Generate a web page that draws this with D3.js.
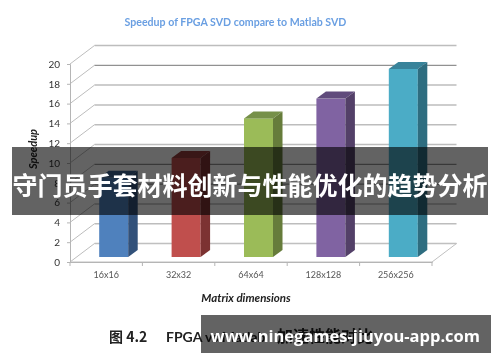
<!DOCTYPE html>
<html>
<head>
<meta charset="utf-8">
<script src="https://cdn.jsdelivr.net/npm/d3@7"></script>
<style>
html, body { margin: 0; padding: 0; background: #fff; }
svg { display: block; }
text { font-family: Lato, "Open Sans", sans-serif; }
</style>
</head>
<body>
<div id="chart"></div>
<script>
const categories = ['16x16', '32x32', '64x64', '128x128', '256x256'];
const speedup = [8, 10, 14, 16, 19];
const yTicks = [0, 2, 4, 6, 8, 10, 12, 14, 16, 18, 20];
const frontColors = ['#4f81bd', '#c0504d', '#9bbb59', '#8064a2', '#4bacc6'];
const topColors = ['#3b6390', '#923c3a', '#76904a', '#614c7c', '#38839a'];
const sideColors = ['#30517a', '#7c3130', '#667c3a', '#523f68', '#2f6d80'];

const width = 500, height = 362;
const depth = {x: 24.5, y: -18.5};
const barDepth = {x: 9.5, y: -7};

const svg = d3.select('#chart').append('svg')
    .attr('width', width)
    .attr('height', height);

const defs = svg.append('defs');
defs.append('filter').attr('id', 'soft')
    .append('feGaussianBlur').attr('stdDeviation', 0.55);

const chart = svg.append('g').attr('filter', 'url(#soft)');

const x = d3.scaleBand().domain(categories).range([70, 432]);
const y = d3.scaleLinear().domain([0, 20]).range([262, 64]);
const barH = v => y(0) - y(v);
const barBase = 257;

chart.append('text')
    .attr('x', 235.5).attr('y', 26)
    .attr('text-anchor', 'middle')
    .style('font-size', '10.6px')
    .style('font-weight', 'bold')
    .style('fill', '#6a9fe2')
    .text('Speedup of FPGA SVD compare to Matlab SVD');

// back wall gridlines and the slanted lines on the side wall
const isDark = t => t === 18 || t === 8 || t === 6;
const grid = chart.append('g');
yTicks.forEach(t => {
    grid.append('line')
        .attr('x1', x.range()[0]).attr('y1', y(t))
        .attr('x2', x.range()[0] + depth.x).attr('y2', y(t) + depth.y)
        .attr('stroke', '#bdbdbd').attr('stroke-width', 1);
    grid.append('line')
        .attr('x1', x.range()[0] + depth.x).attr('y1', y(t) + depth.y)
        .attr('x2', x.range()[1] + depth.x).attr('y2', y(t) + depth.y)
        .attr('stroke', isDark(t) ? '#777' : '#bdbdbd')
        .attr('stroke-width', isDark(t) ? 1 : 1.5);
});

// floor edges
const floor = d3.line();
chart.append('path')
    .attr('d', floor([
        [x.range()[0] + depth.x, y(0) + depth.y],
        [x.range()[1] + depth.x, y(0) + depth.y],
        [x.range()[1], y(0)],
        [x.range()[0], y(0)]
    ]))
    .attr('fill', 'none')
    .attr('stroke', '#c0c0c0');

const axisY = d3.axisLeft(y).tickValues(yTicks).tickSize(3).tickPadding(7);
const gy = chart.append('g').attr('transform', `translate(${x.range()[0]},0)`).call(axisY);
gy.select('.domain').attr('stroke', '#b5b5b5');
gy.selectAll('.tick line').attr('stroke', '#b5b5b5');
gy.selectAll('text').style('font-size', '10px').style('fill', '#333');

const axisX = d3.axisBottom(x).tickSize(0).tickPadding(10);
const gx = chart.append('g').attr('transform', `translate(0,${y(0)})`).call(axisX);
gx.select('.domain').attr('stroke', '#b5b5b5');
gx.selectAll('text').style('font-size', '9px').style('fill', '#555');
categories.concat('end').forEach((c, i) => {
    const px = x.range()[0] + i * x.step();
    gx.append('line').attr('x1', px).attr('x2', px).attr('y1', 0).attr('y2', 4).attr('stroke', '#b5b5b5');
});

// bars, drawn as front, top and side faces
const bars = chart.selectAll('.bar').data(categories).join('g').attr('class', 'bar');
const barX = c => x(c) + x.bandwidth() / 2 - 7;
const barW = 29;
const barTop = (c, i) => barBase - barH(speedup[i]);

bars.append('rect')
    .attr('x', barX)
    .attr('y', barTop)
    .attr('width', barW)
    .attr('height', (c, i) => barH(speedup[i]))
    .attr('fill', (c, i) => frontColors[i]);
bars.append('path')
    .attr('d', (c, i) => floor([
        [barX(c), barTop(c, i)],
        [barX(c) + barDepth.x, barTop(c, i) + barDepth.y],
        [barX(c) + barW + barDepth.x, barTop(c, i) + barDepth.y],
        [barX(c) + barW, barTop(c, i)]
    ]))
    .attr('fill', (c, i) => topColors[i]);
bars.append('path')
    .attr('d', (c, i) => floor([
        [barX(c) + barW, barTop(c, i)],
        [barX(c) + barW + barDepth.x, barTop(c, i) + barDepth.y],
        [barX(c) + barW + barDepth.x, barBase + barDepth.y],
        [barX(c) + barW, barBase]
    ]))
    .attr('fill', (c, i) => sideColors[i]);

chart.append('text')
    .attr('transform', 'translate(37,149) rotate(-90)')
    .attr('text-anchor', 'middle')
    .style('font-size', '11px')
    .style('font-weight', 'bold')
    .style('font-style', 'italic')
    .style('fill', '#222')
    .text('Speedup');

chart.append('text')
    .attr('x', 246).attr('y', 302)
    .attr('text-anchor', 'middle')
    .style('font-size', '11.5px')
    .style('font-weight', 'bold')
    .style('font-style', 'italic')
    .style('fill', '#222')
    .text('Matrix dimensions');

chart.append('text')
    .attr('x', 109).attr('y', 342)
    .style('font-family', '"Noto Sans CJK SC", sans-serif')
    .style('font-size', '14px')
    .style('font-weight', 'bold')
    .style('fill', '#222')
    .text('图 4.2');

chart.append('text')
    .attr('x', 166).attr('y', 342)
    .style('font-size', '14px')
    .style('font-weight', 'bold')
    .style('fill', '#222')
    .text('FPGA vs Matlab');

chart.append('text')
    .attr('x', 277).attr('y', 342)
    .style('font-family', '"Noto Sans CJK SC", sans-serif')
    .style('font-size', '16px')
    .style('font-weight', 'bold')
    .style('fill', '#222')
    .text('加速性能对比');

// dark banners over the picture
svg.append('rect').attr('x', 12).attr('y', 147).attr('width', 476).attr('height', 68)
    .attr('fill', '#000').attr('fill-opacity', 0.61);
svg.append('rect').attr('x', 201).attr('y', 315).attr('width', 290).attr('height', 38)
    .attr('fill', '#000').attr('fill-opacity', 0.61);

svg.append('text')
    .attr('x', 250).attr('y', 195)
    .attr('text-anchor', 'middle')
    .style('font-family', '"Noto Sans CJK SC", sans-serif')
    .style('font-size', '25px')
    .style('font-weight', 'bold')
    .style('fill', '#fff')
    .text('守门员手套材料创新与性能优化的趋势分析');

svg.append('text')
    .attr('x', 480).attr('y', 342)
    .attr('text-anchor', 'end')
    .style('font-family', '"Open Sans", sans-serif')
    .style('font-size', '16.5px')
    .style('font-weight', 'bold')
    .style('fill', '#fff')
    .text('www.ninegames-jiuyou-app.com');
</script>
</body>
</html>
